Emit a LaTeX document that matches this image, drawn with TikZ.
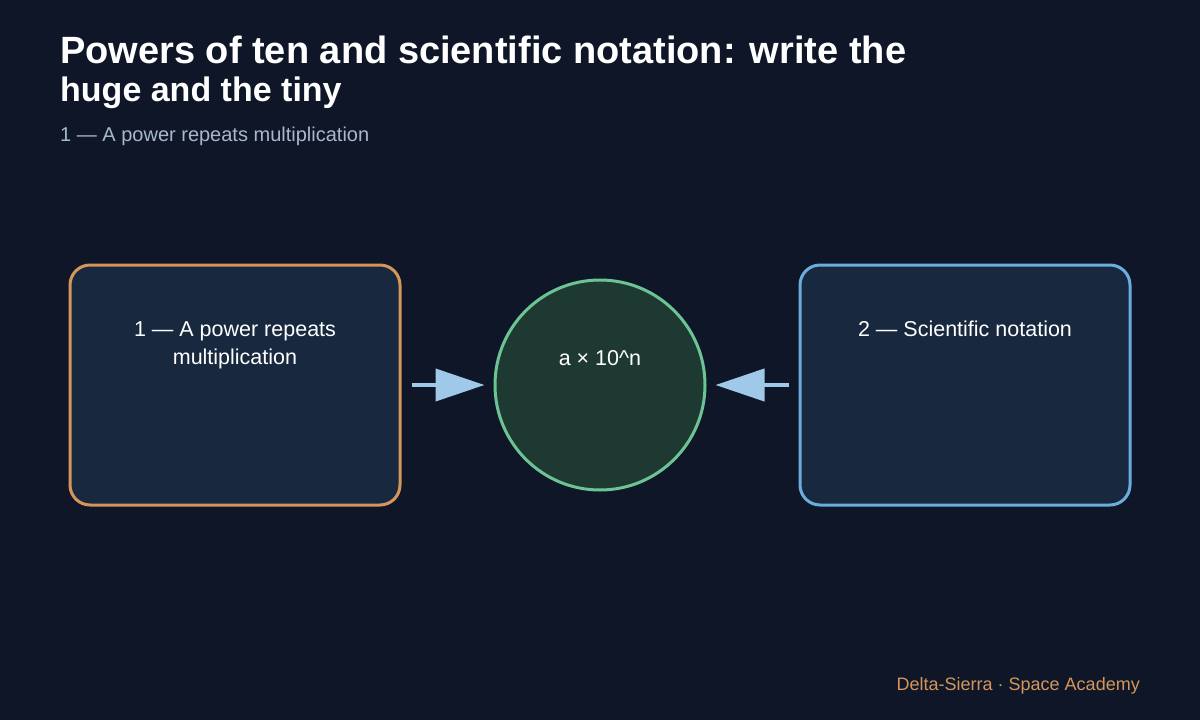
\documentclass[tikz,border=0pt]{standalone}
\usepackage{fontspec}
\setmainfont{Liberation Sans}
\usetikzlibrary{arrows.meta}
\definecolor{bg}{HTML}{0E1628}
\definecolor{boxfill}{HTML}{18283F}
\definecolor{orangeedge}{HTML}{D4965A}
\definecolor{blueedge}{HTML}{6AAEDE}
\definecolor{greenedge}{HTML}{6CC494}
\definecolor{circfill}{HTML}{1E3832}
\definecolor{arrowcol}{HTML}{A0C8E8}
\definecolor{subcol}{HTML}{A8B8CC}
\definecolor{footcol}{HTML}{D4965A}
\begin{document}
\begin{tikzpicture}[x=1pt,y=-1pt,
  titletext/.style={anchor=base west,inner sep=0pt,text=white,font=\fontsize{34}{40}\selectfont\bfseries},
  subtext/.style={anchor=base west,inner sep=0pt,text=subcol,font=\fontsize{20}{24}\selectfont},
  panel/.style={draw,line width=3pt,rounded corners=20pt,fill=boxfill,minimum width=330pt,minimum height=240pt,inner sep=0pt},
  lbl/.style={inner sep=0pt,text=white,font=\fontsize{21.5}{28}\selectfont,align=center},
  conn/.style={draw=arrowcol,line width=4pt,-{Triangle[length=49pt,width=32pt]},shorten <=10pt,shorten >=9pt}
]
\fill[bg] (0,0) rectangle (1200,720);
\useasboundingbox (0,0) rectangle (1200,720);
\node[titletext,font=\fontsize{38}{44}\selectfont\bfseries] (t1) at (60,63) {Powers of ten and scientific notation: write the};
\node[titletext] (t2) at (60,101) {huge and the tiny};
\node[subtext] (st) at (60,141) {1 — A power repeats multiplication};
\node[panel,draw=orangeedge] (a) at (235,385) {};
\node[panel,draw=blueedge] (b) at (965,385) {};
\node[circle,draw=greenedge,line width=3pt,fill=circfill,minimum size=210pt,inner sep=0pt] (c) at (600,385) {};
\node[lbl,anchor=base] (la) at (235,364) {1 — A power repeats\\multiplication};
\node[lbl,anchor=base] (lb) at (965,336) {2 — Scientific notation};
\node[lbl,anchor=base] (lc) at (600,365) {a × 10\^{}n};
\draw[conn] (a.east) -- (c.west);
\draw[conn] (b.west) -- (c.east);
\node[anchor=base east,inner sep=0pt,text=footcol,font=\fontsize{18}{22}\selectfont] (ft) at (1140,690) {Delta-Sierra · Space Academy};
\end{tikzpicture}
\end{document}
